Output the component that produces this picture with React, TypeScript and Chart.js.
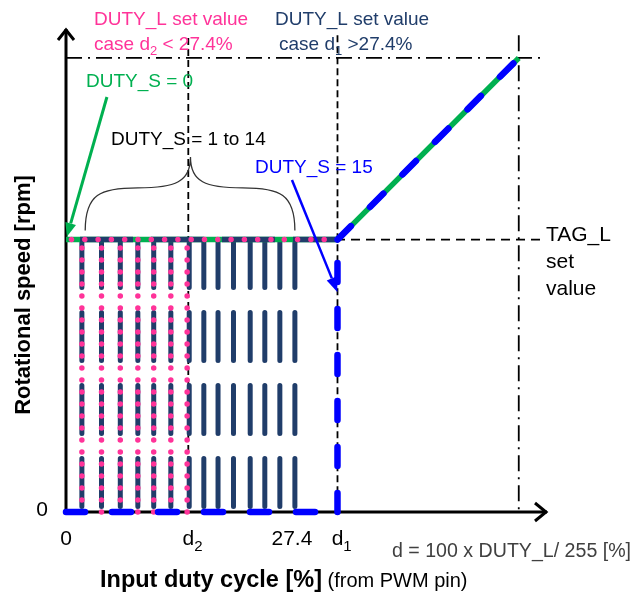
import React, { useEffect, useRef } from 'react';
import { Chart, registerables } from 'chart.js';

Chart.register(...registerables);

// ---- Data (x: input duty cycle [%], y: rotational speed [rpm]) ----
const X_MAX = 57.7;          // end of x axis arrow
const Y_MAX = 5330;          // end of y axis arrow
const D2 = 14.64;            // d2 (< 27.4 %)
const D1 = 32.5;             // d1 (> 27.4 %)
const D_FULL = 54.2;         // duty where max speed is reached
const TAG_L = 3000;          // TAG_L set value speed
const SPEED_MAX = 5000;      // max speed
const GUIDE_TOP = 5250;      // top of vertical guide lines
const D2_GUIDE_TOP = 5220;
const GUIDE_RIGHT = 56.75;   // right end of horizontal guide lines

// DUTY_S = 1 .. 14 vertical bars (navy)
const dutySBars = [1.9, 4.25, 6.5, 8.6, 10.5, 12.55, 14.75, 16.5, 18.2, 20.05, 22.05, 23.8, 25.6, 27.4];
// pink dotted columns (case d2 < 27.4 %)
const pinkColumns = [1.9, 4.25, 6.5, 8.6, 10.5, 12.55, 14.5];
// main curves
const greenCurveX = [0, D1, D_FULL];
const greenCurveY = [TAG_L, TAG_L, SPEED_MAX];
// tick labels on x axis
const xTickValues = [0, D2, 27.4, D1];
const xTickLabels = ['0', 'd|2', '27.4', 'd|1'];

// annotation anchors (data units)
const braceLeft = 2.3;
const braceRight = 27.4;
const braceMid = 14.9;
const braceBase = 3100;
const braceShoulder = 3570;
const bracePeak = 3910;
const greenArrowFrom = { x: 4.9, y: 4570 };
const greenArrowTo = { x: 0.1, y: 3030 };
const blueArrowFrom = { x: 27.05, y: 3656 };
const blueArrowTo = { x: D1, y: 2420 };

const PINK = '#FF3399';
const NAVY = '#203D6A';
const GREEN = '#00B050';
const BLUE = '#0000FF';
const FAMILY = '"Liberation Sans", Arial, Helvetica, sans-serif';

type Pt = { x: number; y: number };

function line(points: Pt[], style: any, z: number) {
  return {
    data: points,
    showLine: true,
    fill: false,
    pointRadius: 0,
    tension: 0,
    clip: false as any,
    order: 100 - z,
    ...style,
  };
}

function richText(ctx: CanvasRenderingContext2D, spec: string, x: number, y: number, size: number, color: string, align: 'left' | 'center' = 'left', bold = false) {
  // spec: "text|sub|text" – odd parts are subscripts
  const parts = spec.split('|');
  const mainFont = `${bold ? 'bold ' : ''}${size}px ${FAMILY}`;
  const subFont = `${Math.round(size * 0.7)}px ${FAMILY}`;
  ctx.fillStyle = color;
  ctx.textBaseline = 'alphabetic';
  ctx.textAlign = 'left';
  let cx = x;
  if (align === 'center') {
    ctx.font = mainFont;
    cx = x - ctx.measureText(parts[0]).width / 2;
  }
  parts.forEach((p, i) => {
    const sub = i % 2 === 1;
    ctx.font = sub ? subFont : mainFont;
    ctx.fillText(p, cx, sub ? y + size * 0.28 : y);
    cx += ctx.measureText(p).width;
  });
}

function arrow(ctx: CanvasRenderingContext2D, x1: number, y1: number, x2: number, y2: number, color: string, w: number, hl: number, hw: number) {
  const a = Math.atan2(y2 - y1, x2 - x1);
  const bx = x2 - hl * Math.cos(a);
  const by = y2 - hl * Math.sin(a);
  ctx.strokeStyle = color;
  ctx.fillStyle = color;
  ctx.lineWidth = w;
  ctx.lineCap = 'butt';
  ctx.beginPath();
  ctx.moveTo(x1, y1);
  ctx.lineTo(bx, by);
  ctx.stroke();
  ctx.beginPath();
  ctx.moveTo(x2, y2);
  ctx.lineTo(bx + (hw / 2) * Math.sin(a), by - (hw / 2) * Math.cos(a));
  ctx.lineTo(bx - (hw / 2) * Math.sin(a), by + (hw / 2) * Math.cos(a));
  ctx.closePath();
  ctx.fill();
}

const overlay = {
  id: 'overlay',
  beforeDatasetsDraw(chart: any) {
    const { ctx, scales } = chart;
    const px = (v: number) => scales.x.getPixelForValue(v);
    const py = (v: number) => scales.y.getPixelForValue(v);
    ctx.save();
    ctx.strokeStyle = '#000';
    ctx.lineWidth = 3;
    ctx.lineCap = 'butt';
    ctx.lineJoin = 'miter';
    // axes
    ctx.beginPath();
    ctx.moveTo(px(0), py(0) + 1.5);
    ctx.lineTo(px(0), py(Y_MAX) + 1);
    ctx.stroke();
    ctx.beginPath();
    ctx.moveTo(px(0) - 1.5, py(0));
    ctx.lineTo(px(X_MAX) - 1, py(0));
    ctx.stroke();
    // arrow heads (open chevrons)
    ctx.beginPath();
    ctx.moveTo(px(0) - 8, py(Y_MAX) + 12);
    ctx.lineTo(px(0), py(Y_MAX) + 2);
    ctx.lineTo(px(0) + 8, py(Y_MAX) + 12);
    ctx.stroke();
    ctx.beginPath();
    ctx.moveTo(px(X_MAX) - 13, py(0) - 9);
    ctx.lineTo(px(X_MAX) - 2, py(0));
    ctx.lineTo(px(X_MAX) - 13, py(0) + 9);
    ctx.stroke();
    ctx.restore();
  },
  afterDatasetsDraw(chart: any) {
    const { ctx, scales } = chart;
    const px = (v: number) => scales.x.getPixelForValue(v);
    const py = (v: number) => scales.y.getPixelForValue(v);
    ctx.save();

    // curly brace for DUTY_S = 1 to 14
    const x1 = px(braceLeft), x2 = px(braceRight), xm = px(braceMid);
    const yb = py(braceBase), ys = py(braceShoulder), yt = py(bracePeak);
    const ql = (x1 + xm) / 2, qr = (xm + x2) / 2;
    ctx.strokeStyle = '#333';
    ctx.lineWidth = 1.3;
    ctx.beginPath();
    ctx.moveTo(x1, yb);
    ctx.bezierCurveTo(x1, ys + 6, x1 + 15, ys, ql, ys);
    ctx.bezierCurveTo(xm - 15, ys, xm, ys - 6, xm, yt);
    ctx.bezierCurveTo(xm, ys - 6, xm + 15, ys, qr, ys);
    ctx.bezierCurveTo(x2 - 15, ys, x2, ys + 6, x2, yb);
    ctx.stroke();

    // arrows
    arrow(ctx, px(greenArrowFrom.x), py(greenArrowFrom.y), px(greenArrowTo.x), py(greenArrowTo.y), GREEN, 3, 14, 11);
    arrow(ctx, px(blueArrowFrom.x), py(blueArrowFrom.y), px(blueArrowTo.x), py(blueArrowTo.y), BLUE, 2.5, 15, 11);

    // headers
    richText(ctx, 'DUTY_L set value', 94, 25, 19, PINK);
    richText(ctx, 'case d|2| < 27.4%', 94, 50, 19, PINK);
    richText(ctx, 'DUTY_L set value', 275, 25, 19, NAVY);
    richText(ctx, 'case d|1| >27.4%', 279, 50, 19, NAVY);

    // labels
    richText(ctx, 'DUTY_S = 0', 86, 87, 19, GREEN);
    richText(ctx, 'DUTY_S = 1 to 14', 111, 145, 19, '#000');
    richText(ctx, 'DUTY_S = 15', 255, 173, 19, BLUE);
    richText(ctx, 'TAG_L', 546, 241, 21, '#000');
    richText(ctx, 'set', 546, 268, 21, '#000');
    richText(ctx, 'value', 546, 295, 21, '#000');

    // y tick "0"
    ctx.font = `21px ${FAMILY}`;
    ctx.fillStyle = '#000';
    ctx.textAlign = 'center';
    ctx.textBaseline = 'middle';
    ctx.fillText('0', px(0) - 24, py(0) - 2);

    // x tick labels
    xTickValues.forEach((v, i) => {
      const off = xTickLabels[i] === '27.4' ? -3 : 0;
      richText(ctx, xTickLabels[i], px(v) + off, py(0) + 33, 21, '#000', 'center');
    });

    // formula
    richText(ctx, 'd = 100 x DUTY_L/ 255 [%]', 392, 557, 19.6, '#404040');

    // axis titles
    ctx.font = `bold 23.5px ${FAMILY}`;
    ctx.fillStyle = '#000';
    ctx.textAlign = 'left';
    ctx.textBaseline = 'alphabetic';
    const t1 = 'Input duty cycle [%]';
    ctx.fillText(t1, 100, 587);
    const w1 = ctx.measureText(t1).width;
    ctx.font = `20px ${FAMILY}`;
    ctx.fillText(' (from PWM pin)', 100 + w1, 587);

    ctx.translate(24, 295);
    ctx.rotate(-Math.PI / 2);
    ctx.font = `bold 22px ${FAMILY}`;
    ctx.textAlign = 'center';
    ctx.textBaseline = 'middle';
    ctx.fillText('Rotational speed [rpm]', 0, 0);

    ctx.restore();
  },
};

export default function App() {
  const ref = useRef<HTMLCanvasElement | null>(null);

  useEffect(() => {
    if (!ref.current) return;
    const guide = { borderColor: '#000', borderWidth: 1.8, borderCapStyle: 'butt' };
    const datasets: any[] = [];

    // guide lines
    datasets.push(line([{ x: D2, y: D2_GUIDE_TOP }, { x: D2, y: 0 }], { ...guide, borderDash: [7, 4] }, 1));
    datasets.push(line([{ x: D1, y: GUIDE_TOP }, { x: D1, y: 0 }], { ...guide, borderDash: [7, 4] }, 1));
    datasets.push(line([{ x: 0, y: TAG_L }, { x: GUIDE_RIGHT, y: TAG_L }], { ...guide, borderDash: [9, 6] }, 1));
    datasets.push(line([{ x: 0, y: SPEED_MAX }, { x: GUIDE_RIGHT, y: SPEED_MAX }], { ...guide, borderDash: [16, 6, 2, 6] }, 1));
    datasets.push(line([{ x: D_FULL, y: GUIDE_TOP }, { x: D_FULL, y: 0 }], { ...guide, borderDash: [16, 6, 2, 6] }, 1));

    // navy bars DUTY_S = 1..14
    dutySBars.forEach((bx) => {
      datasets.push(line([{ x: bx, y: TAG_L }, { x: bx, y: 0 }], {
        borderColor: NAVY, borderWidth: 5, borderDash: [48, 25], borderCapStyle: 'round',
      }, 2));
    });

    // green curve
    datasets.push(line(greenCurveX.map((x, i) => ({ x, y: greenCurveY[i] })), {
      borderColor: GREEN, borderWidth: 5.5, borderCapStyle: 'butt', borderJoinStyle: 'miter',
    }, 3));

    // navy flat line (dashed over green)
    datasets.push(line([{ x: 0, y: TAG_L }, { x: D1, y: TAG_L }], {
      borderColor: NAVY, borderWidth: 5.5, borderDash: [53, 18], borderDashOffset: 57, borderCapStyle: 'butt',
    }, 4));

    // pink dotted columns + flat line
    pinkColumns.forEach((cx) => {
      datasets.push(line([{ x: cx, y: 0 }, { x: cx, y: TAG_L }], {
        borderColor: PINK, borderWidth: 5.5, borderDash: [0, 12], borderCapStyle: 'round',
      }, 5));
    });
    datasets.push(line([{ x: D1, y: TAG_L }, { x: 0, y: TAG_L }], {
      borderColor: PINK, borderWidth: 5.5, borderDash: [0, 13.3], borderCapStyle: 'round',
    }, 5));

    // blue dashed (DUTY_S = 15)
    const blue = { borderColor: BLUE, borderWidth: 6.5, borderDash: [19, 27], borderCapStyle: 'round' };
    datasets.push(line([{ x: 0, y: 0 }, { x: D1, y: 0 }], blue, 6));
    datasets.push(line([{ x: D1, y: 0 }, { x: D1, y: TAG_L }], blue, 6));
    datasets.push(line([{ x: D1, y: TAG_L }, { x: D_FULL, y: SPEED_MAX }], blue, 6));

    const chart = new Chart(ref.current, {
      type: 'line',
      data: { datasets },
      options: {
        animation: false,
        responsive: false,
        maintainAspectRatio: false,
        layout: { padding: { left: 66, right: 95, top: 28, bottom: 83 } },
        scales: {
          x: { type: 'linear', min: 0, max: X_MAX, display: false },
          y: { type: 'linear', min: 0, max: Y_MAX, display: false },
        },
        plugins: { legend: { display: false }, tooltip: { enabled: false } },
        elements: { point: { radius: 0 } },
      },
      plugins: [overlay],
    } as any);
    return () => chart.destroy();
  }, []);

  return (
    <div style={{ position: 'absolute', left: 0, top: 0, width: 643, height: 595, background: '#fff' }}>
      <canvas ref={ref} width={643} height={595} style={{ display: 'block', width: 643, height: 595 }} />
    </div>
  );
}
